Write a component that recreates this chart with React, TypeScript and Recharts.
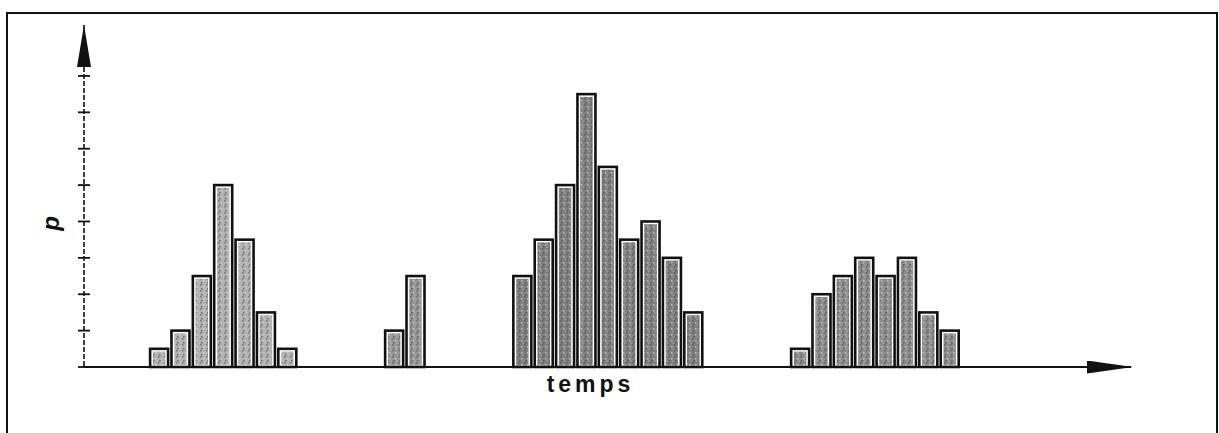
import { BarChart, Bar, XAxis, YAxis, Label } from "recharts";

// time slots on the x axis (temps), 49 of them, bars sit in four bursts
const slotLabels = Array.from({ length: 49 }, (_, i) => `t${i}`);

// bursts: where each starts on the timeline and its bar heights (p)
const burstStarts = [3, 14, 20, 33];
const burst1 = [0.5, 1, 2.5, 5, 3.5, 1.5, 0.5];
const burst2 = [1, 2.5];
const burst3 = [2.5, 3.5, 5, 7.5, 5.5, 3.5, 4, 3, 1.5];
const burst4 = [0.5, 2, 2.5, 3, 2.5, 3, 1.5, 1];

const pTicks = [0, 1, 2, 3, 4, 5, 6, 7, 8];

const burstFills = ["#b0b0b0", "#969696", "#808080", "#8c8c8c"];

type Slot = { t: string; p: number | null; burst: number };

const data: Slot[] = slotLabels.map(t => ({ t, p: null, burst: -1 }));
[burst1, burst2, burst3, burst4].forEach((values, b) => {
  values.forEach((v, i) => {
    data[burstStarts[b] + i] = { ...data[burstStarts[b] + i], p: v, burst: b };
  });
});

function ShadedBar(props: any) {
  const { x, y, width, height, payload } = props;
  if (!height || height <= 0) return null;
  const fill = burstFills[payload?.burst] ?? "#999";
  return (
    <g>
      <rect x={x} y={y} width={width} height={height} fill="#fff" stroke="#111" strokeWidth={2.6} />
      <rect x={x + 2.8} y={y + 2.8} width={width - 5.6} height={height - 3.8} fill={fill} />
      <rect x={x + 2.8} y={y + 2.8} width={width - 5.6} height={height - 3.8} fill="url(#speckle)" />
    </g>
  );
}

function CrossTick(props: any) {
  const { x, y } = props;
  return <line x1={x - 6} x2={x + 6} y1={y} y2={y} stroke="#111" strokeWidth={1.8} />;
}

const labelFont = "'Liberation Sans', Arial, sans-serif";

function PLabel(props: any) {
  const vb = props.viewBox ?? { x: 0, y: 11, width: 76, height: 342 };
  const cx = vb.x + 43;
  const cy = vb.y + vb.height * 0.58;
  return (
    <text
      x={cx}
      y={cy}
      textAnchor="middle"
      dominantBaseline="central"
      transform={`rotate(-90, ${cx}, ${cy})`}
      style={{ fontFamily: labelFont, fontWeight: 700, fontStyle: "italic", fontSize: 24, fill: "#111" }}
    >
      p
    </text>
  );
}

function TempsLabel(props: any) {
  const vb = props.viewBox ?? { x: 76, y: 353, width: 1047, height: 40 };
  return (
    <text
      x={vb.x + vb.width / 2 - 17}
      y={vb.y + 25}
      textAnchor="middle"
      style={{ fontFamily: labelFont, fontWeight: 700, fontSize: 23, letterSpacing: 4, fill: "#111" }}
    >
      temps
    </text>
  );
}

export default function App() {
  return (
    <div
      style={{
        position: "absolute",
        left: 6,
        top: 12,
        width: 1212,
        height: 425,
        border: "2px solid #111",
        boxSizing: "border-box",
        background: "#fff"
      }}
    >
      <BarChart
        width={1208}
        height={421}
        data={data}
        margin={{ top: 11, right: 85, bottom: 28, left: 0 }}
        barCategoryGap={0}
      >
        <defs>
          <marker
            id="arrowUp"
            viewBox="0 0 42 14"
            refX={42}
            refY={7}
            markerWidth={42}
            markerHeight={14}
            markerUnits="userSpaceOnUse"
            orient="auto-start-reverse"
          >
            <path d="M0,0 L42,7 L0,14 z" fill="#111" />
          </marker>
          <marker
            id="arrowRight"
            viewBox="0 0 46 13"
            refX={44}
            refY={6.5}
            markerWidth={46}
            markerHeight={13}
            markerUnits="userSpaceOnUse"
            orient="auto"
          >
            <path d="M0,0 L46,6.5 L0,13 z" fill="#111" />
          </marker>
          <pattern id="speckle" width="6" height="6" patternUnits="userSpaceOnUse">
            <rect x="0" y="0" width="1.5" height="1.5" fill="#444" opacity="0.55" />
            <rect x="3" y="2" width="1.5" height="1.5" fill="#e6e6e6" opacity="0.55" />
            <rect x="1" y="4" width="1.5" height="1.5" fill="#333" opacity="0.5" />
            <rect x="4.5" y="4.5" width="1" height="1" fill="#f2f2f2" opacity="0.5" />
          </pattern>
        </defs>
        <XAxis
          dataKey="t"
          height={40}
          tick={false}
          tickLine={false}
          axisLine={{ stroke: "#111", strokeWidth: 2, markerEnd: "url(#arrowRight)" }}
        >
          <Label content={TempsLabel} />
        </XAxis>
        <YAxis
          type="number"
          width={76}
          domain={[0, 9.4]}
          ticks={pTicks}
          tickSize={0}
          tickMargin={0}
          tickLine={false}
          tick={CrossTick}
          axisLine={{
            stroke: "#111",
            strokeWidth: 1.6,
            strokeDasharray: "5 2",
            markerStart: "url(#arrowUp)"
          }}
        >
          <Label content={PLabel} />
        </YAxis>
        <Bar dataKey="p" barSize={18} shape={ShadedBar} isAnimationActive={false} />
      </BarChart>
    </div>
  );
}
